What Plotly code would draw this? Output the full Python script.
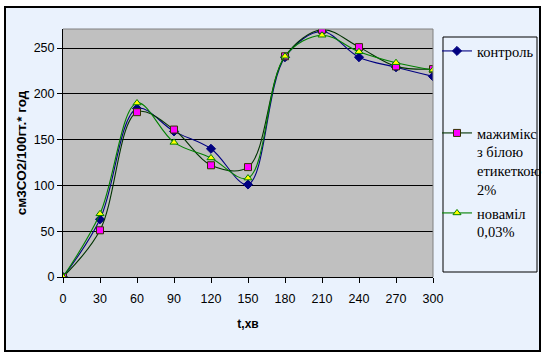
import plotly.graph_objects as go

t = [0, 30, 60, 90, 120, 150, 180, 210, 240, 270, 300]
kontrol = [0, 63, 184, 159, 140, 101, 240, 268, 240, 229, 219]
mazhimiks = [0, 51, 180, 161, 122, 120, 241, 270, 251, 230, 227]
novamil = [0, 69, 190, 147, 130, 108, 241, 264, 246, 234, 226]

names = ["контроль", "мажимікс<br>з білою<br>етикеткою<br>2%", "новаміл<br>0,03%"]
x_ticks = [0, 30, 60, 90, 120, 150, 180, 210, 240, 270, 300]
y_ticks = [0, 50, 100, 150, 200, 250]

W, H = 545, 356
L, R, T, B = 63, 433, 29, 277


def px(xp):
    return (xp - L) / (R - L)


def py(yp):
    return (B - yp) / (B - T)


fig = go.Figure()
fig.add_trace(go.Scatter(
    x=t, y=kontrol, name=names[0], mode="lines+markers", showlegend=True,
    line=dict(color="#000080", width=1.1, shape="spline", smoothing=1),
    marker=dict(symbol="diamond", size=7, color="#000080", line=dict(color="#000080", width=1)),
    legend="legend"))
fig.add_trace(go.Scatter(
    x=t, y=mazhimiks, name=names[1], mode="lines+markers", showlegend=True,
    line=dict(color="#003300", width=1.1, shape="spline", smoothing=1),
    marker=dict(symbol="square", size=7, color="#FF00FF", line=dict(color="#333300", width=1)),
    legend="legend2"))
fig.add_trace(go.Scatter(
    x=t, y=novamil, name=names[2], mode="lines+markers", showlegend=True,
    line=dict(color="#008000", width=1.1, shape="spline", smoothing=1),
    marker=dict(symbol="triangle-up", size=7, color="#FFFF00", line=dict(color="#008000", width=1)),
    legend="legend3"))

bg = "#EAF2FD"
leg_common = dict(xanchor="left", yanchor="top", bgcolor="rgba(0,0,0,0)", borderwidth=0,
                  font=dict(family="Liberation Serif, serif", size=14.5, color="black"),
                  valign="top", tracegroupgap=0, xref="paper", yref="paper")

white_rects = [
    (0, 5, 0, H), (540, W, 0, H), (0, W, 0, 7), (0, W, 351, H),
]
shapes = []
for x0, x1, y0, y1 in white_rects:
    shapes.append(dict(type="rect", xref="paper", yref="paper", x0=px(x0), x1=px(x1),
                       y0=py(y1), y1=py(y0), fillcolor="white", line=dict(width=0)))
shapes += [
    dict(type="rect", xref="paper", yref="paper", x0=px(5), x1=px(540), y0=py(351), y1=py(7),
         fillcolor="rgba(0,0,0,0)", line=dict(color="black", width=2)),
    dict(type="line", xref="paper", yref="paper", x0=0, x1=1, y0=1, y1=1,
         line=dict(color="#808080", width=1)),
    dict(type="line", xref="paper", yref="paper", x0=1, x1=1, y0=0, y1=1,
         line=dict(color="#808080", width=1)),
    dict(type="rect", xref="paper", yref="paper", x0=px(443), x1=px(537), y0=py(272), y1=py(37),
         line=dict(color="black", width=1), fillcolor="rgba(0,0,0,0)"),
]

fig.update_layout(
    width=W, height=H,
    showlegend=True,
    margin=dict(l=L, r=W - R, t=T, b=H - B, autoexpand=False),
    paper_bgcolor=bg,
    plot_bgcolor="#C0C0C0",
    font=dict(family="Liberation Sans", size=12, color="black"),
    legend=dict(x=px(437), y=py(35), **leg_common),
    legend2=dict(x=px(437), y=py(117), **leg_common),
    legend3=dict(x=px(437), y=py(197), **leg_common),
    xaxis=dict(range=[0, 300], tickvals=x_ticks, ticks="outside", ticklen=5, tickcolor="black",
               showgrid=False, zeroline=False, showline=True, linecolor="black", linewidth=1,
               ticklabelstandoff=5,
               title=dict(text="<b>t,хв</b>", font=dict(size=12), standoff=14),
               tickfont=dict(size=12.5)),
    yaxis=dict(range=[0, 270.8], tickvals=y_ticks, ticks="outside", ticklen=5, tickcolor="black",
               showgrid=True, gridcolor="black", gridwidth=1, zeroline=False,
               showline=True, linecolor="black", linewidth=1,
               title=dict(text="<b>см3СО2/100гт.* год</b>", font=dict(size=13.5), standoff=3),
               tickfont=dict(size=12.5)),
    shapes=shapes,
)

fig.write_html("out.html", config={"displayModeBar": False},
               post_script="document.body.style.margin='0';")
